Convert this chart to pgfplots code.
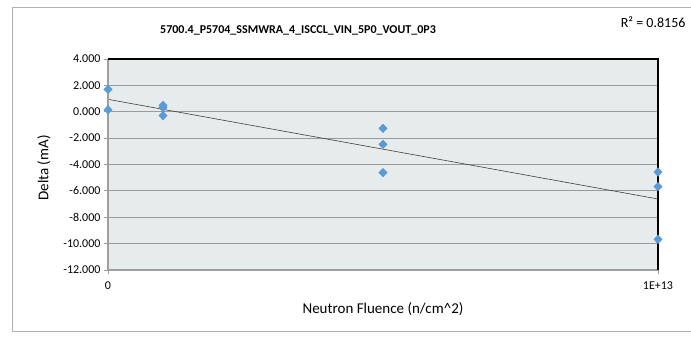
\documentclass[border=0pt]{standalone}
\usepackage{fontspec}
\setmainfont{Carlito}
\usepackage{pgfplots}
\pgfplotsset{compat=1.18}
\usepackage{pgfplotstable}
\definecolor{ptblue}{HTML}{5B9BD5}
\definecolor{plotbg}{HTML}{E6EBEB}
\definecolor{gridgray}{HTML}{9A9A9A}

\pgfplotstableread{
x y
0 1.70
0 0.15
1e12 0.48
1e12 0.32
1e12 -0.30
5e12 -1.26
5e12 -2.47
5e12 -4.62
1e13 -4.57
1e13 -5.68
1e13 -9.67
}\datatable

\begin{document}
\begin{tikzpicture}[x=1pt,y=1pt]
\useasboundingbox (0,0) rectangle (691,338);
\draw[gray!60, line width=0.8pt] (700,331) -- (12,331) -- (12,7) -- (700,7);
\begin{axis}[
  at={(108pt,68pt)}, anchor=south west, scale only axis,
  width=550pt, height=211pt,
  xmin=0, xmax=1e13, ymin=-12, ymax=4,
  scaled x ticks=false,
  xtick={0,1e13}, xticklabels={0,1E+13},
  ytick={-12,-10,...,4},
  y tick label style={/pgf/number format/.cd, fixed, fixed zerofill, precision=3, assume math mode=true},
  tick label style={font=\fontsize{12}{14}\selectfont},
  xticklabel style={yshift=-4pt},
  xtick pos=left, ytick pos=left,
  tick align=outside, major tick length=4pt,
  tick style={gridgray, line width=0.8pt},
  ymajorgrids, grid style={gridgray, line width=0.8pt},
  axis background/.style={fill=plotbg},
  axis line style={draw=none},
  clip=false,
]
\addplot[black!75, line width=0.6pt, no marks] table[x=x, y={create col/linear regression={y=y}}] {\datatable};
\addplot[only marks, mark=diamond*, mark size=4.3pt, mark options={draw=ptblue, fill=ptblue, xscale=1.3}] table[x=x, y=y] {\datatable};
\draw[gray!75, line width=1.6pt] (rel axis cs:0,1) -- (rel axis cs:0,0) -- (rel axis cs:1,0);
\draw[black, line width=1.1pt] (rel axis cs:0,1) -- (rel axis cs:1,1) -- (rel axis cs:1,0);
\end{axis}
\node[font=\bfseries\fontsize{12}{14}\selectfont] at (298,307.5) {5700.4\_P5704\_SSMWRA\_4\_ISCCL\_VIN\_5P0\_VOUT\_0P3};
\node[anchor=east, font=\fontsize{14}{16}\selectfont] at (689,316) {R² = 0.8156};
\node[rotate=90, font=\fontsize{15}{17}\selectfont] at (44,170) {Delta (mA)};
\node[font=\fontsize{15}{17}\selectfont] at (383,29) {Neutron Fluence (n/cm\textasciicircum 2)};
\end{tikzpicture}
\end{document}
